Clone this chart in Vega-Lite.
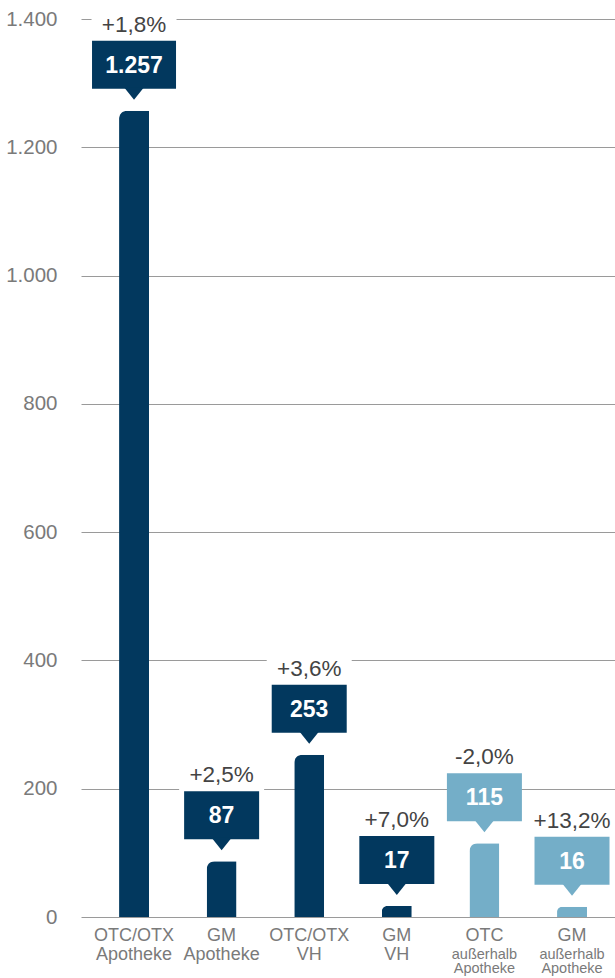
{
  "$schema": "https://vega.github.io/schema/vega-lite/v6.json",
  "width": 534,
  "height": 898,
  "autosize": {"type": "none"},
  "padding": {"left": 81, "top": 19, "right": 0, "bottom": 61},
  "background": "white",
  "config": {
    "view": {"stroke": null},
    "font": "Liberation Sans",
    "text": {"font": "Liberation Sans"}
  },
  "data": {
    "values": [
      {"cat": "OTC/OTX Apotheke", "l1": "OTC/OTX", "l2": "Apotheke", "l3": null, "group": "Apotheke/VH", "value": 1257, "label": "1.257", "pct": "+1,8%"},
      {"cat": "GM Apotheke", "l1": "GM", "l2": "Apotheke", "l3": null, "group": "Apotheke/VH", "value": 87, "label": "87", "pct": "+2,5%"},
      {"cat": "OTC/OTX VH", "l1": "OTC/OTX", "l2": "VH", "l3": null, "group": "Apotheke/VH", "value": 253, "label": "253", "pct": "+3,6%"},
      {"cat": "GM VH", "l1": "GM", "l2": "VH", "l3": null, "group": "Apotheke/VH", "value": 17, "label": "17", "pct": "+7,0%"},
      {"cat": "OTC außerhalb Apotheke", "l1": "OTC", "l2": "außerhalb", "l3": "Apotheke", "group": "außerhalb Apotheke", "value": 115, "label": "115", "pct": "-2,0%"},
      {"cat": "GM außerhalb Apotheke", "l1": "GM", "l2": "außerhalb", "l3": "Apotheke", "group": "außerhalb Apotheke", "value": 16, "label": "16", "pct": "+13,2%"}
    ]
  },
  "encoding": {
    "x": {
      "field": "cat",
      "type": "nominal",
      "sort": null,
      "axis": null,
      "scale": {"paddingInner": 0.658, "paddingOuter": 0.377, "align": 0.576}
    }
  },
  "layer": [
    {
      "mark": {"type": "bar", "cornerRadiusTopLeft": 8},
      "encoding": {
        "y": {
          "field": "value",
          "type": "quantitative",
          "scale": {"domain": [0, 1400], "nice": false},
          "axis": {
            "title": null,
            "values": [0, 200, 400, 600, 800, 1000, 1200, 1400],
            "labelExpr": "replace(format(datum.value, ','), ',', '.')",
            "labelFontSize": 20.5,
            "labelColor": "#7a7a7a",
            "labelFont": "Liberation Sans",
            "labelPadding": 24,
            "ticks": false,
            "domain": false,
            "grid": true,
            "gridColor": "#9a9a9a",
            "gridWidth": 1,
            "gridOpacity": 1
          }
        },
        "color": {
          "field": "group",
          "type": "nominal",
          "scale": {"domain": ["Apotheke/VH", "außerhalb Apotheke"], "range": ["#02385e", "#74aec8"]},
          "legend": null
        }
      }
    },
    {
      "mark": {"type": "bar", "width": 85, "color": "white", "yOffset": -100, "y2Offset": -70},
      "encoding": {
        "y": {"field": "value", "type": "quantitative"},
        "y2": {"field": "value"}
      }
    },
    {
      "transform": [{"filter": "datum.value < 1000"}],
      "mark": {"type": "bar", "width": 75, "yOffset": -70, "y2Offset": -22},
      "encoding": {
        "y": {"field": "value", "type": "quantitative"},
        "y2": {"field": "value"},
        "color": {"field": "group", "type": "nominal", "legend": null}
      }
    },
    {
      "transform": [{"filter": "datum.value >= 1000"}],
      "mark": {"type": "bar", "width": 84, "yOffset": -70, "y2Offset": -22},
      "encoding": {
        "y": {"field": "value", "type": "quantitative"},
        "y2": {"field": "value"},
        "color": {"field": "group", "type": "nominal", "legend": null}
      }
    },
    {
      "mark": {"type": "point", "shape": "M-1,-0.7L1,-0.7L0,0.55Z", "size": 400, "filled": true, "opacity": 1, "strokeWidth": 0, "yOffset": -16.5},
      "encoding": {
        "y": {"field": "value", "type": "quantitative"},
        "color": {"field": "group", "type": "nominal", "legend": null}
      }
    },
    {
      "mark": {"type": "text", "fontSize": 22.5, "color": "#444444", "baseline": "middle", "align": "center", "yOffset": -86},
      "encoding": {
        "y": {"field": "value", "type": "quantitative"},
        "text": {"field": "pct"}
      }
    },
    {
      "mark": {"type": "text", "fontSize": 23, "fontWeight": "bold", "color": "white", "baseline": "middle", "align": "center", "yOffset": -45},
      "encoding": {
        "y": {"field": "value", "type": "quantitative"},
        "text": {"field": "label"}
      }
    },
    {
      "mark": {"type": "text", "fontSize": 18, "color": "#7a7a7a", "baseline": "middle", "align": "center", "yOffset": 19},
      "encoding": {
        "y": {"datum": 0},
        "text": {"field": "l1"}
      }
    },
    {
      "transform": [{"filter": "datum.l3 == null"}],
      "mark": {"type": "text", "fontSize": 18, "color": "#7a7a7a", "baseline": "middle", "align": "center", "yOffset": 38},
      "encoding": {
        "y": {"datum": 0},
        "text": {"field": "l2"}
      }
    },
    {
      "transform": [{"filter": "datum.l3 != null"}],
      "mark": {"type": "text", "fontSize": 14.5, "color": "#7a7a7a", "baseline": "middle", "align": "center", "yOffset": 38},
      "encoding": {
        "y": {"datum": 0},
        "text": {"field": "l2"}
      }
    },
    {
      "transform": [{"filter": "datum.l3 != null"}],
      "mark": {"type": "text", "fontSize": 14.5, "color": "#7a7a7a", "baseline": "middle", "align": "center", "yOffset": 52},
      "encoding": {
        "y": {"datum": 0},
        "text": {"field": "l3"}
      }
    }
  ]
}
